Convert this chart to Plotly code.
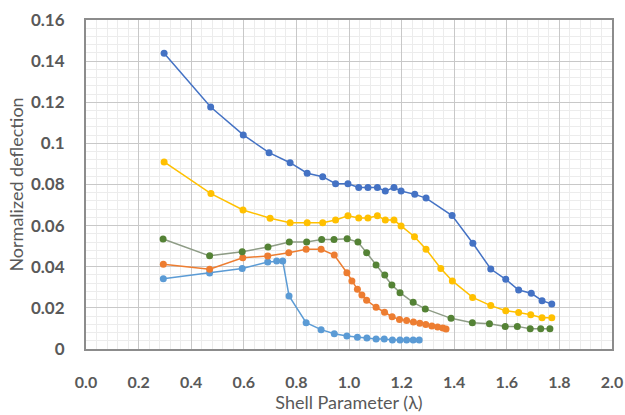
import plotly.graph_objects as go

# ---- data ----
x_dark_blue = [0.297, 0.474, 0.598, 0.696, 0.776, 0.841, 0.900, 0.949, 0.996, 1.037, 1.072, 1.108,
               1.138, 1.171, 1.198, 1.250, 1.293, 1.392, 1.471, 1.539, 1.596, 1.645, 1.693, 1.734, 1.771]
y_dark_blue = [0.1438, 0.1177, 0.1041, 0.0955, 0.0906, 0.0855, 0.0838, 0.0804, 0.0804, 0.0786, 0.0786, 0.0786,
               0.0768, 0.0786, 0.0768, 0.0752, 0.0734, 0.0649, 0.0514, 0.0389, 0.0339, 0.0287, 0.0271, 0.0235, 0.0219]

x_yellow = [0.297, 0.475, 0.597, 0.700, 0.776, 0.841, 0.900, 0.949, 0.996, 1.037, 1.072, 1.108, 1.138,
            1.171, 1.198, 1.249, 1.293, 1.349, 1.393, 1.470, 1.539, 1.596, 1.645, 1.691, 1.734, 1.771]
y_yellow = [0.0910, 0.0756, 0.0676, 0.0636, 0.0614, 0.0614, 0.0614, 0.0627, 0.0648, 0.0637, 0.0637, 0.0648, 0.0627,
            0.0627, 0.0598, 0.0546, 0.0485, 0.0392, 0.0331, 0.0251, 0.0211, 0.0186, 0.0178, 0.0167, 0.0152, 0.0152]

x_green = [0.293, 0.470, 0.594, 0.692, 0.773, 0.839, 0.896, 0.943, 0.993, 1.034, 1.067, 1.103, 1.136,
           1.163, 1.194, 1.244, 1.290, 1.388, 1.469, 1.534, 1.594, 1.640, 1.689, 1.729, 1.764]
y_green = [0.0535, 0.0453, 0.0473, 0.0496, 0.0520, 0.0520, 0.0532, 0.0532, 0.0536, 0.0520, 0.0468, 0.0409, 0.0360,
           0.0311, 0.0274, 0.0227, 0.0195, 0.0149, 0.0128, 0.0123, 0.0110, 0.0110, 0.0099, 0.0099, 0.0099]

x_orange = [0.294, 0.470, 0.596, 0.691, 0.771, 0.837, 0.894, 0.944, 0.992, 1.011, 1.032, 1.049, 1.067,
            1.103, 1.135, 1.164, 1.192, 1.219, 1.245, 1.269, 1.292, 1.315, 1.337, 1.357, 1.369]
y_orange = [0.0412, 0.0388, 0.0444, 0.0452, 0.0468, 0.0485, 0.0485, 0.0457, 0.0371, 0.0331, 0.0290, 0.0263, 0.0237,
            0.0203, 0.0179, 0.0157, 0.0143, 0.0139, 0.0131, 0.0125, 0.0119, 0.0112, 0.0107, 0.0102, 0.0097]

x_light_blue = [0.294, 0.470, 0.594, 0.691, 0.725, 0.748, 0.772, 0.837, 0.894, 0.944, 0.992, 1.032,
                1.068, 1.103, 1.134, 1.165, 1.194, 1.219, 1.244, 1.267]
y_light_blue = [0.0342, 0.0370, 0.0392, 0.0423, 0.0428, 0.0428, 0.0258, 0.0128, 0.0094, 0.0074, 0.0063, 0.0057,
                0.0053, 0.0049, 0.0049, 0.0044, 0.0044, 0.0044, 0.0044, 0.0044]

x_title = "Shell Parameter (λ)"
y_title = "Normalized deflection"

series = [
    (x_light_blue, y_light_blue, "#5B9BD5", "#5B9BD5"),
    (x_orange, y_orange, "#ED7D31", "#ED7D31"),
    (x_green, y_green, "#8E9C86", "#548235"),
    (x_yellow, y_yellow, "#FFC000", "#FFC000"),
    (x_dark_blue, y_dark_blue, "#4472C4", "#4472C4"),
]

fig = go.Figure()
for xs, ys, lc, mc in series:
    fig.add_trace(go.Scatter(
        x=xs, y=ys, mode="lines+markers",
        line=dict(color=lc, width=1.5),
        marker=dict(color=mc, size=7),
        showlegend=False,
    ))

font_family = "Lato, 'Open Sans', sans-serif"
fig.update_layout(
    width=625, height=415,
    margin=dict(l=86, r=13, t=20, b=66, autoexpand=False),
    paper_bgcolor="white", plot_bgcolor="white",
    font=dict(family=font_family, color="#595959"),
    xaxis=dict(
        range=[0, 2.0], dtick=0.2, tick0=0, tickformat=".1f",
        showgrid=True, gridcolor="#C8C8C8", gridwidth=1,
        minor=dict(dtick=0.04, showgrid=True, gridcolor="#ECECEC", gridwidth=1),
        showline=True, linecolor="#8C8C8C", linewidth=2, mirror=True,
        zeroline=False, ticks="", ticklabelstandoff=18, automargin=False,
        tickfont=dict(size=16, color="#595959", family=font_family, weight="bold"),
        title=dict(text=x_title, font=dict(size=18, color="#595959"), standoff=5),
    ),
    yaxis=dict(
        range=[0, 0.16], dtick=0.02, tick0=0,
        showgrid=True, gridcolor="#C8C8C8", gridwidth=1,
        minor=dict(dtick=0.004, showgrid=True, gridcolor="#ECECEC", gridwidth=1),
        showline=True, linecolor="#8C8C8C", linewidth=2, mirror=True,
        zeroline=False, ticks="", ticklabelstandoff=16, automargin=False,
        tickfont=dict(size=17, color="#595959", family=font_family, weight="bold"),
        title=dict(text=y_title, font=dict(size=18, color="#595959"), standoff=3),
    ),
)

fig.write_html("out.html")
